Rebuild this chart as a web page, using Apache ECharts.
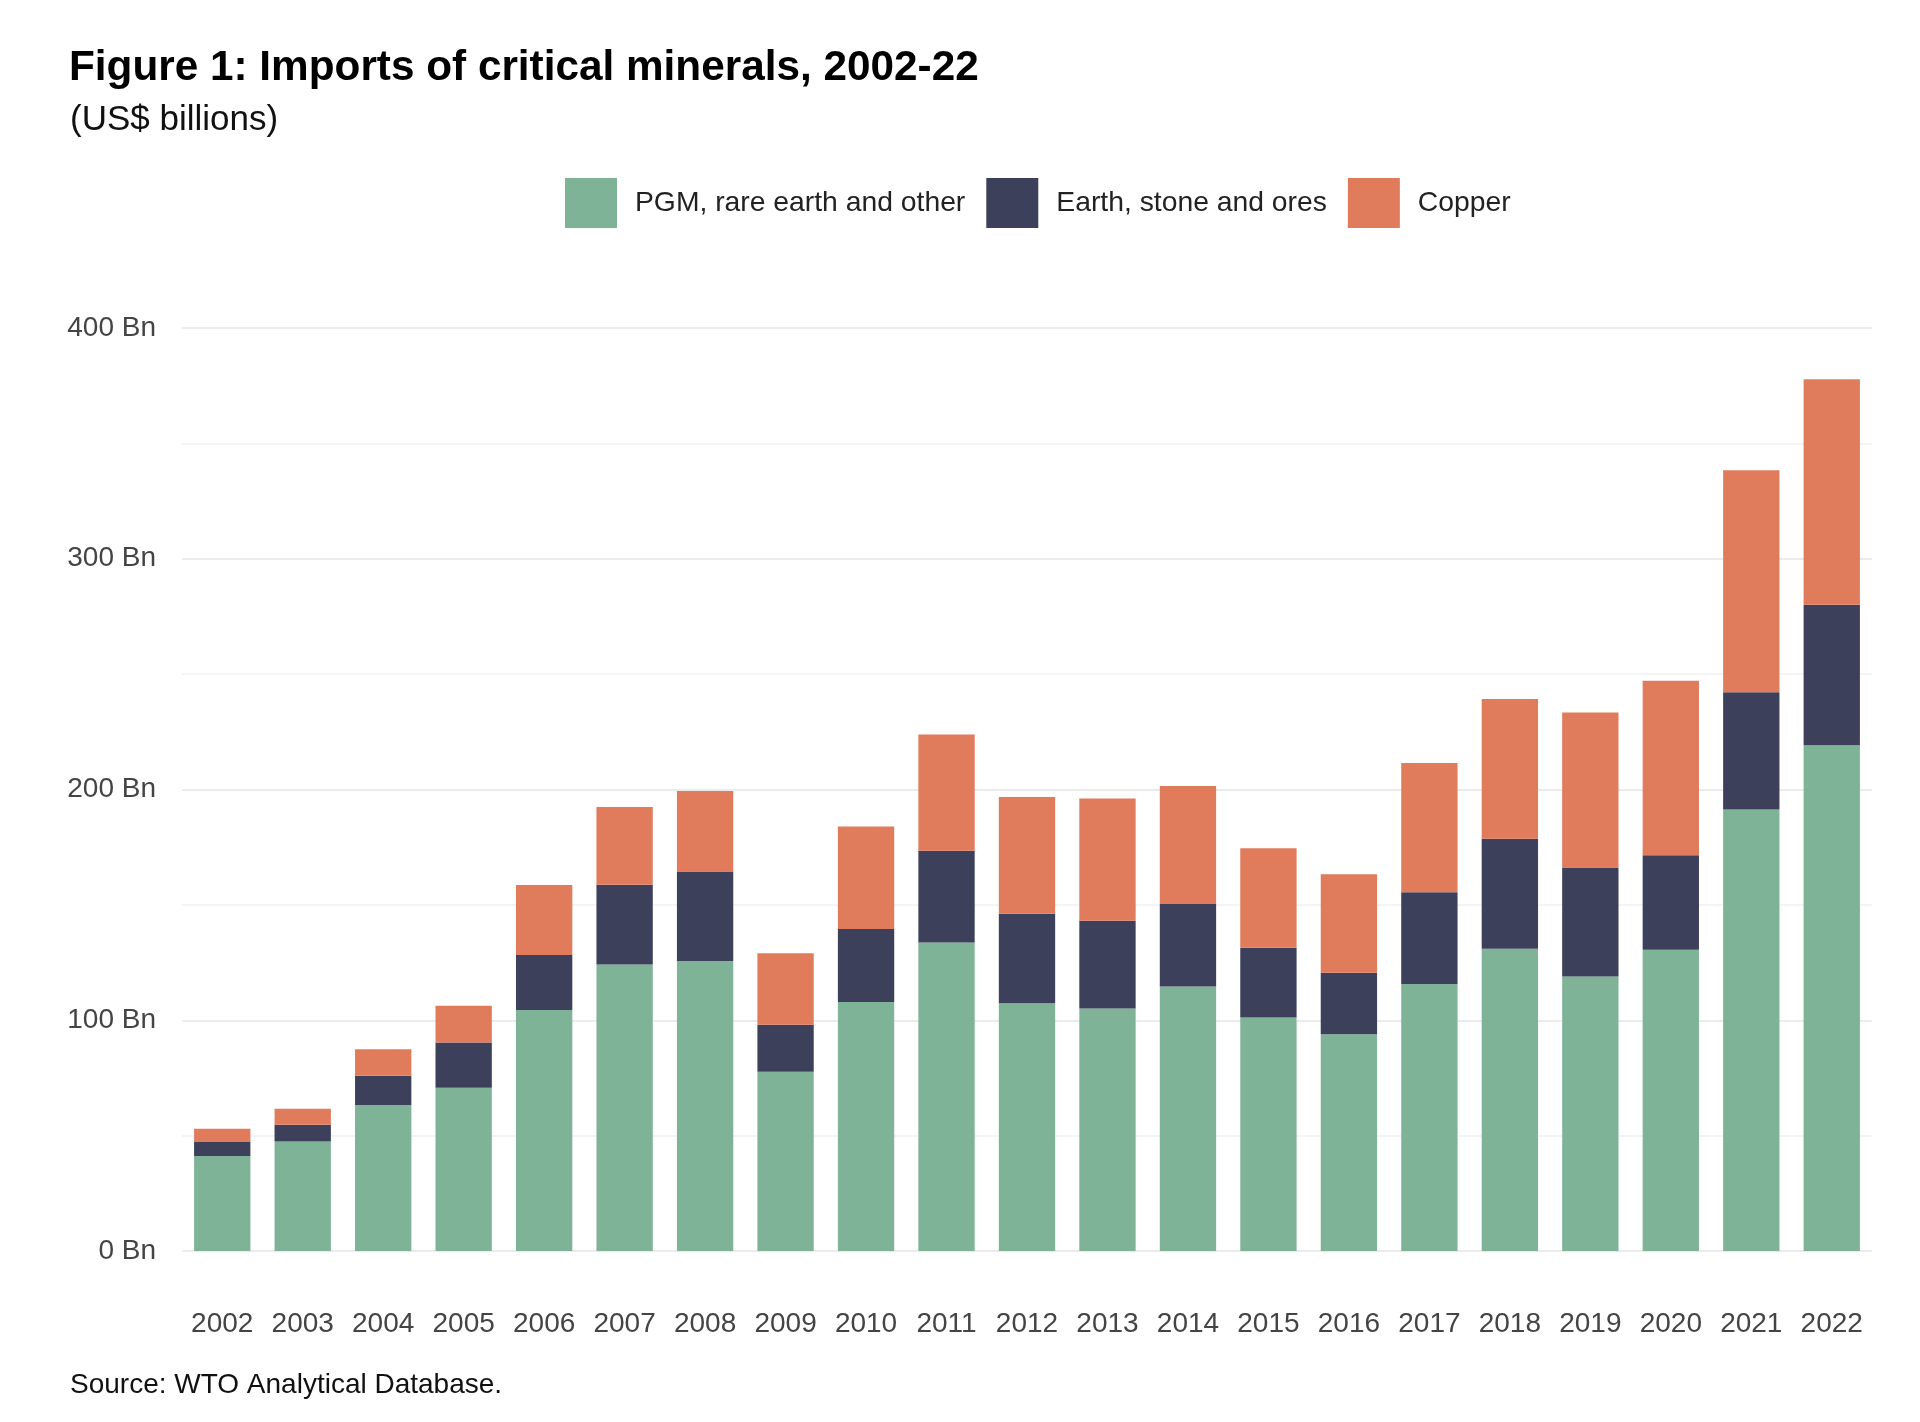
<!DOCTYPE html>
<html>
<head>
<meta charset="utf-8">
<script src="https://cdn.jsdelivr.net/npm/echarts@6/dist/echarts.min.js"></script>
<style>
  html, body { margin: 0; padding: 0; background: #fff; }
  #chart { width: 1920px; height: 1422px; }
</style>
</head>
<body>
<div id="chart"></div>
<script>
// years on the x axis
var years = ['2002', '2003', '2004', '2005', '2006', '2007', '2008', '2009', '2010', '2011',
  '2012', '2013', '2014', '2015', '2016', '2017', '2018', '2019', '2020', '2021', '2022'];

// US$ billions
var pgm = [41.2, 47.5, 63.3, 70.7, 104.4, 124.2, 125.7, 77.7, 107.9, 133.7,
  107.4, 105.1, 114.6, 101.2, 93.9, 115.7, 131.0, 119.0, 130.6, 191.3, 219.2];
var earth = [6.0, 7.2, 12.7, 19.7, 23.9, 34.5, 38.8, 20.3, 31.6, 39.8,
  38.8, 38.0, 35.8, 30.2, 26.7, 39.8, 47.7, 47.2, 40.9, 50.8, 60.9];
var copper = [5.8, 6.9, 11.4, 15.9, 30.3, 33.7, 34.8, 31.0, 44.5, 50.3,
  50.5, 53.0, 51.1, 43.1, 42.7, 56.0, 60.5, 67.2, 75.6, 96.2, 97.7];

var seriesNames = ['PGM, rare earth and other', 'Earth, stone and ores', 'Copper'];
var colors = ['#7fb397', '#3c405b', '#e07b5c'];

var font = '"Liberation Sans", Arial, sans-serif';

var chart = echarts.init(document.getElementById('chart'));

var option = {
  backgroundColor: '#ffffff',
  animation: false,
  color: colors,
  title: [
    {
      text: 'Figure 1: Imports of critical minerals, 2002-22',
      left: 64, top: 42,
      textStyle: { fontFamily: font, fontWeight: 'bold', fontSize: 42.3, color: '#000' }
    },
    {
      text: '(US$ billions)',
      left: 65, top: 98,
      textStyle: { fontFamily: font, fontWeight: 'normal', fontSize: 35, color: '#111' }
    },
    {
      text: 'Source: WTO Analytical Database.',
      left: 65, top: 1366,
      textStyle: { fontFamily: font, fontWeight: 'normal', fontSize: 28, color: '#111' }
    }
  ],
  legend: {
    data: seriesNames,
    left: 560, top: 173,
    itemWidth: 52, itemHeight: 50,
    itemGap: 21,
    icon: 'rect',
    textStyle: { fontFamily: font, fontSize: 28.3, color: '#222', padding: [0, 0, 0, 13] }
  },
  grid: { left: 182, right: 48, top: 328, bottom: 171 },
  xAxis: {
    type: 'category',
    data: years,
    axisLine: { show: false },
    axisTick: { show: false },
    axisLabel: { fontFamily: font, fontSize: 28, color: '#444', margin: 59, interval: 0 }
  },
  yAxis: {
    type: 'value',
    min: 0, max: 400, interval: 100,
    axisLabel: {
      fontFamily: font, fontSize: 28, color: '#444', margin: 26,
      formatter: '{value} Bn'
    },
    splitLine: { lineStyle: { color: '#ebebeb', width: 2 } },
    minorTick: { show: false, splitNumber: 2 },
    minorSplitLine: { show: true, lineStyle: { color: '#f4f4f4', width: 2 } }
  },
  series: [
    { name: seriesNames[0], type: 'bar', stack: 'total', data: pgm, barCategoryGap: '30%' },
    { name: seriesNames[1], type: 'bar', stack: 'total', data: earth },
    { name: seriesNames[2], type: 'bar', stack: 'total', data: copper }
  ]
};

chart.setOption(option);
</script>
</body>
</html>
